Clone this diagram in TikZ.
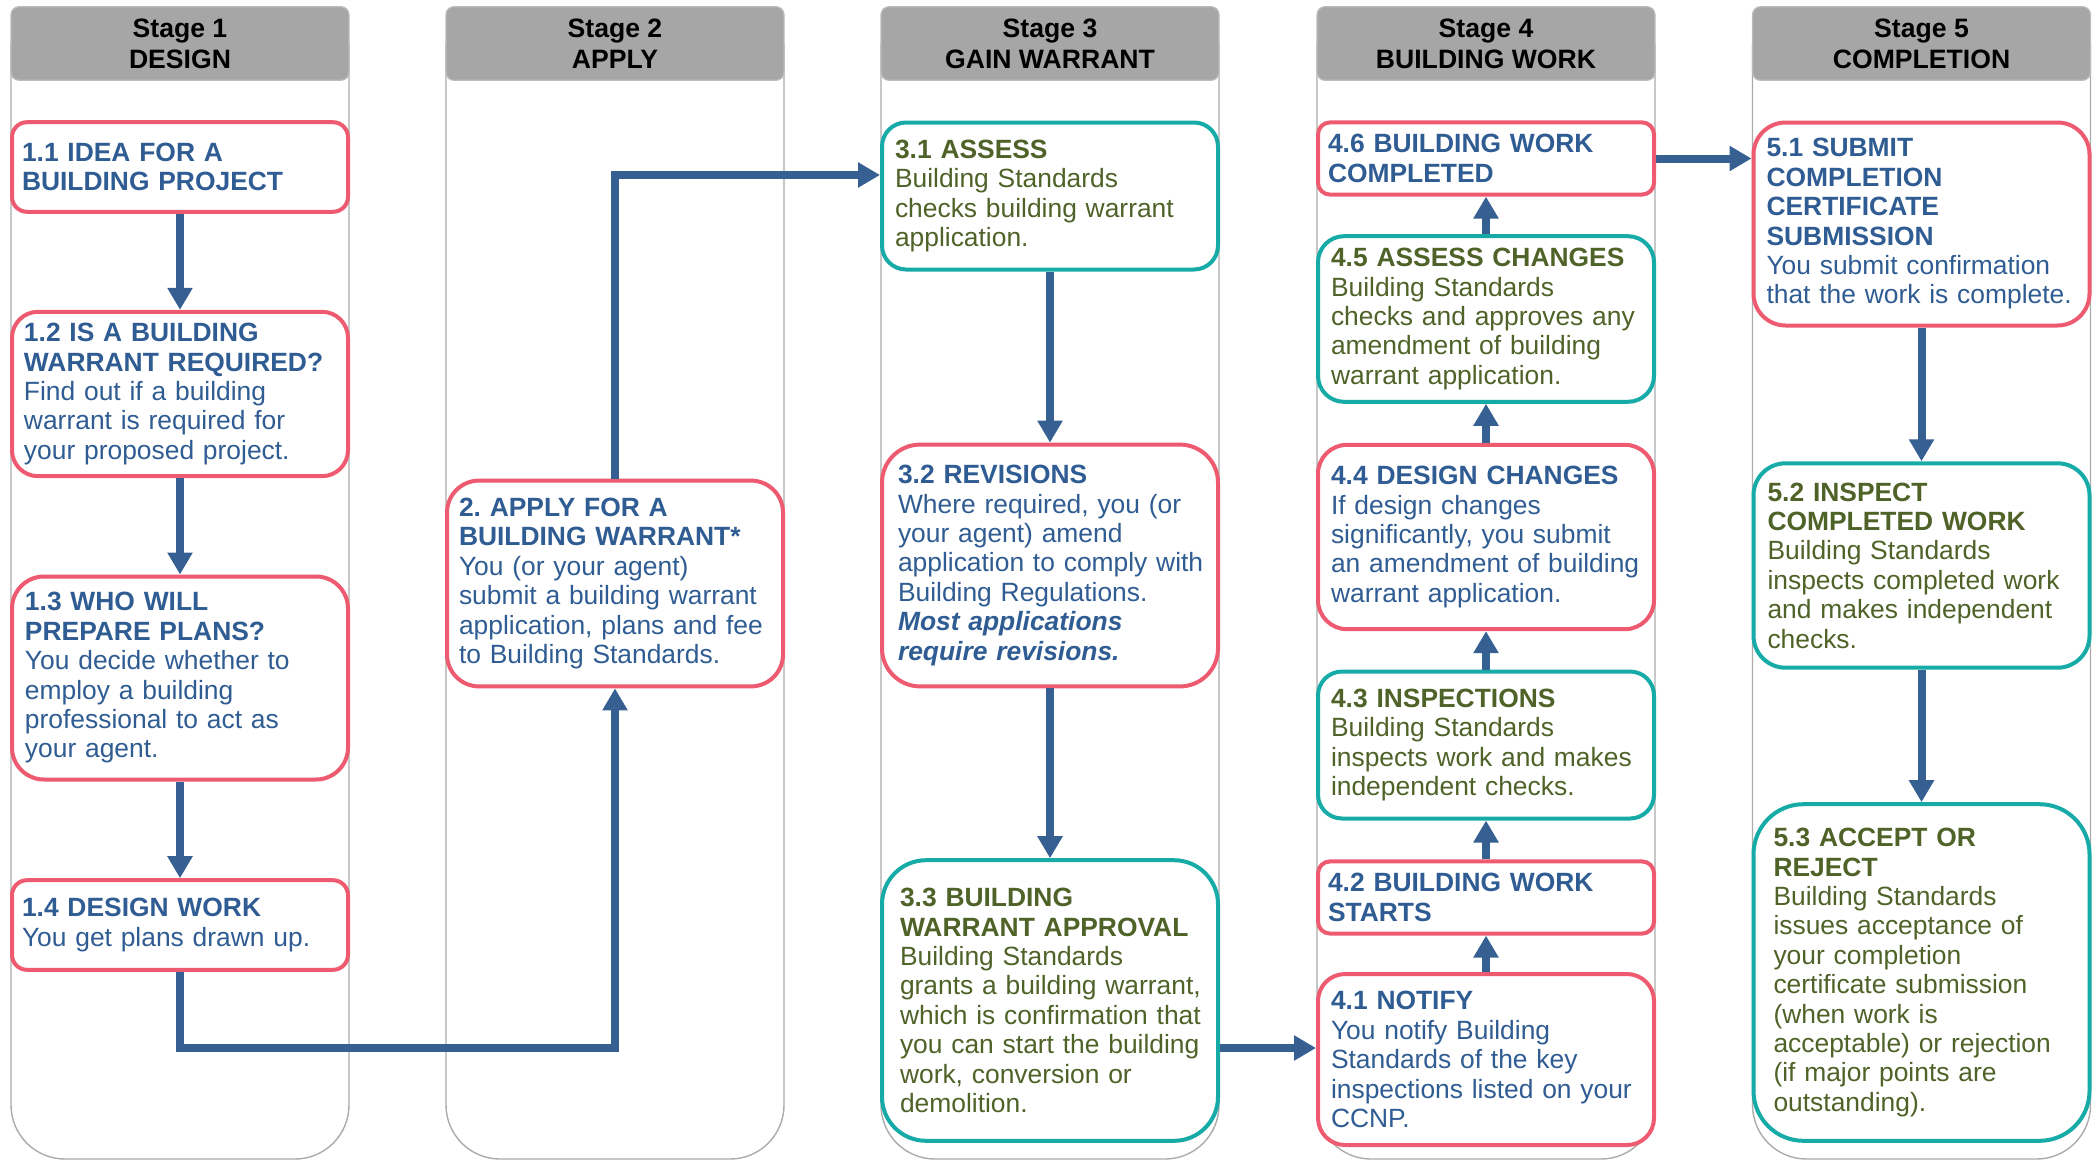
\documentclass[tikz,border=0pt]{standalone}
\usepackage{fontspec}
\setmainfont{Liberation Sans}
\usetikzlibrary{arrows.meta}

\definecolor{headgray}{HTML}{A6A6A6}
\definecolor{laneline}{HTML}{ABABAB}
\definecolor{boxpink}{HTML}{EE5A6F}
\definecolor{boxteal}{HTML}{16ABA7}
\definecolor{textblue}{HTML}{2F5C92}
\definecolor{textgreen}{HTML}{4F6228}
\definecolor{arrowblue}{HTML}{366092}

\tikzstyle{lanehead} = [fill=headgray, draw=headgray!75, line width=0.6pt, rounded corners=4pt, minimum width=169pt, minimum height=36.8pt, inner ysep=2pt, align=center, font=\fontsize{13.3}{15.4}\selectfont\bfseries]
\tikzstyle{lane} = [draw=laneline, line width=0.7pt, rounded corners=27pt]
\tikzstyle{stepbox} = [draw, line width=2pt, fill=white, text width=158pt, inner xsep=5pt, inner ysep=2pt, align=left, font=\fontsize{13.2}{14.7}\selectfont]
\tikzstyle{pinkbox} = [stepbox, draw=boxpink, text=textblue]
\tikzstyle{tealbox} = [stepbox, draw=boxteal, text=textgreen]
\tikzstyle{flow} = [line width=4pt, draw=arrowblue, -{Triangle[width=12pt,length=11pt]}]
\tikzset{txtpad/.style={execute at begin node={\leftskip=#1}}}

\begin{document}
\begin{tikzpicture}[x=0.5pt, y=-0.5pt]
\useasboundingbox (0,0) rectangle (2096,1161);

% lanes
\draw[lane] (11,44) -- (11,1159) -- (349,1159) -- (349,44);
\draw[lane] (446,44) -- (446,1159) -- (784,1159) -- (784,44);
\draw[lane] (881,44) -- (881,1159) -- (1219,1159) -- (1219,44);
\draw[lane] (1317,44) -- (1317,1159) -- (1655,1159) -- (1655,44);
\draw[lane] (1752.5,44) -- (1752.5,1159) -- (2090.5,1159) -- (2090.5,44);

\node[lanehead] (h1) at (180,43.5) {Stage 1\\DESIGN};
\node[lanehead] (h2) at (615,43.5) {Stage 2\\APPLY};
\node[lanehead] (h3) at (1050,43.5) {Stage 3\\GAIN WARRANT};
\node[lanehead] (h4) at (1486,43.5) {Stage 4\\BUILDING WORK};
\node[lanehead] (h5) at (1921.5,43.5) {Stage 5\\COMPLETION};

% stage 1
\node[pinkbox, minimum height=44.8pt, rounded corners=7.5pt] (b11) at (180,167)
    {\textbf{1.1 IDEA FOR A}\\\textbf{BUILDING PROJECT}};
\node[pinkbox, minimum height=82.2pt, rounded corners=13pt, txtpad=1pt] (b12) at (180,394)
    {\textbf{1.2 IS A BUILDING}\\\textbf{WARRANT REQUIRED?}\\Find out if a building\\warrant is required for\\your proposed project.};
\node[pinkbox, minimum height=101.5pt, rounded corners=16pt, txtpad=1.5pt] (b13) at (180,678)
    {\textbf{1.3 WHO WILL}\\\textbf{PREPARE PLANS?}\\You decide whether to\\employ a building\\professional to act as\\your agent.};
\node[pinkbox, minimum height=44.8pt, rounded corners=7.5pt] (b14) at (180,925)
    {\textbf{1.4 DESIGN WORK}\\You get plans drawn up.};

% stage 2
\node[pinkbox, minimum height=102.9pt, rounded corners=16pt, txtpad=1pt] (b2) at (615,583.5)
    {\textbf{2.\ APPLY FOR A}\\\textbf{BUILDING WARRANT*}\\You (or your agent)\\submit a building warrant\\application, plans and fee\\to Building Standards.};

% stage 3
\node[tealbox, minimum height=73.5pt, rounded corners=12pt, txtpad=1.5pt] (b31) at (1050,196)
    {\textbf{3.1 ASSESS}\\Building Standards\\checks building warrant\\application.};
\node[pinkbox, minimum height=120.9pt, rounded corners=19pt, txtpad=3pt] (b32) at (1050,565.5)
    {\textbf{3.2 REVISIONS}\\Where required, you (or\\your agent) amend\\application to comply with\\Building Regulations.\\\textbf{\textit{Most applications}}\\\textbf{\textit{require revisions.}}};
\node[tealbox, minimum height=140.3pt, rounded corners=22pt, txtpad=4pt] (b33) at (1050,1000.5)
    {\textbf{3.3 BUILDING}\\\textbf{WARRANT APPROVAL}\\Building Standards\\grants a building warrant,\\which is confirmation that\\you can start the building\\work, conversion or\\demolition.};

% stage 4
\node[pinkbox, minimum height=36.1pt, rounded corners=6pt] (b46) at (1486,158.5)
    {\textbf{4.6 BUILDING WORK}\\\textbf{COMPLETED}};
\node[tealbox, minimum height=82.8pt, rounded corners=13pt, txtpad=1.5pt] (b45) at (1486,319)
    {\textbf{4.5 ASSESS CHANGES}\\Building Standards\\checks and approves any\\amendment of building\\warrant application.};
\node[pinkbox, minimum height=92.2pt, rounded corners=14.5pt, txtpad=1.5pt] (b44) at (1486,537)
    {\textbf{4.4 DESIGN CHANGES}\\If design changes\\significantly, you submit\\an amendment of building\\warrant application.};
\node[tealbox, minimum height=73.5pt, rounded corners=12pt, txtpad=1.5pt] (b43) at (1486,745)
    {\textbf{4.3 INSPECTIONS}\\Building Standards\\inspects work and makes\\independent checks.};
\node[pinkbox, minimum height=36.1pt, rounded corners=6pt] (b42) at (1486,897.5)
    {\textbf{4.2 BUILDING WORK}\\\textbf{STARTS}};
\node[pinkbox, minimum height=85.5pt, rounded corners=13.5pt, txtpad=1.5pt] (b41) at (1486,1059.5)
    {\textbf{4.1 NOTIFY}\\You notify Building\\Standards of the key\\inspections listed on your\\CCNP.};

% stage 5
\node[pinkbox, minimum height=101.5pt, rounded corners=16pt, txtpad=1.5pt] (b51) at (1921.5,224)
    {\textbf{5.1 SUBMIT}\\\textbf{COMPLETION}\\\textbf{CERTIFICATE}\\\textbf{SUBMISSION}\\You submit confirmation\\that the work is complete.};
\node[tealbox, minimum height=102.2pt, rounded corners=16pt, txtpad=2pt] (b52) at (1921.5,565.5)
    {\textbf{5.2 INSPECT}\\\textbf{COMPLETED WORK}\\Building Standards\\inspects completed work\\and makes independent\\checks.};
\node[tealbox, minimum height=168.3pt, rounded corners=25pt, txtpad=5pt] (b53) at (1921.5,972.5)
    {\textbf{5.3 ACCEPT OR}\\\textbf{REJECT}\\Building Standards\\issues acceptance of\\your completion\\certificate submission\\(when work is\\acceptable) or rejection\\(if major points are\\outstanding).};

% arrows
\coordinate (lowbend) at (615,1048);
\coordinate (highbend) at (615,175);
\draw[flow] (b11) -- (b12);
\draw[flow] (b12) -- (b13);
\draw[flow] (b13) -- (b14);
\draw[flow] (b14.south) |- (lowbend) -- (b2.south);
\draw[flow] (b2.north) -- (highbend) -- (highbend -| b31.west);
\draw[flow] (b31) -- (b32);
\draw[flow] (b32) -- (b33);
\draw[flow] (b33.east |- lowbend) -- (b41.west |- lowbend);
\draw[flow] (b41) -- (b42);
\draw[flow] (b42) -- (b43);
\draw[flow] (b43) -- (b44);
\draw[flow] (b44) -- (b45);
\draw[flow] (b45) -- (b46);
\draw[flow] (b46.east) -- (b46.east -| b51.west);
\draw[flow] (b51) -- (b52);
\draw[flow] (b52) -- (b53);
\end{tikzpicture}
\end{document}
